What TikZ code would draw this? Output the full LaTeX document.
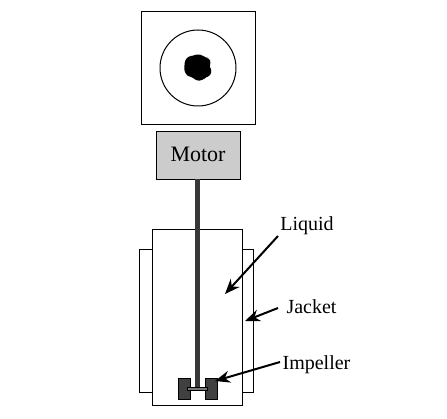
\documentclass[tikz,border=0pt]{standalone}
\usepackage{fontspec}
\setmainfont{Liberation Serif}
\usetikzlibrary{arrows.meta}
\definecolor{shaftgray}{gray}{0.22}
\definecolor{motorgray}{gray}{0.80}
\definecolor{bladegray}{gray}{0.25}
\tikzset{
  x=1pt,y=-1pt,
  outline/.style={draw=black,line width=0.9pt,fill=white},
  lbl/.style={font=\fontsize{20}{22}\selectfont,inner sep=0pt,text=black},
  pointer/.style={draw=black,line width=2pt,-{Stealth[length=15pt,width=12pt]}},
}
\begin{document}
\begin{tikzpicture}
\useasboundingbox (0,0) rectangle (447,419);
% top view
\node[outline,line width=0.9pt,minimum width=114pt,minimum height=113pt,inner sep=0pt] (topbox) at (198,67.5) {};
\node[draw=black,line width=1pt,circle,minimum size=76pt,inner sep=0pt] (ring) at (198,68) {};
\fill[black,rounded corners=2.5pt] (193,56) -- (197,54) -- (203,55.5) -- (206,58) -- (209,58) -- (211,63) -- (209,67) -- (212,70) -- (210,76) -- (206,77) -- (203,80) -- (197,81) -- (192,77) -- (187,76) -- (184,70) -- (185,60) -- (189,56) -- cycle;
% motor
\node[draw=black,line width=0.9pt,fill=motorgray,minimum width=84pt,minimum height=48pt,inner sep=0pt] (motor) at (198,155) {};
\node[lbl,font=\fontsize{22}{24}\selectfont,text=black,draw=none] (motortext) at (198,154.5) {Motor};
% vessel
\node[outline,line width=0.8pt,minimum width=114pt,minimum height=143pt,inner sep=0pt] (jacket) at (196,320.5) {};
\node[outline,line width=0.9pt,minimum width=90pt,minimum height=176pt,inner sep=0pt] (tank) at (197,317) {};
% shaft
\coordinate (shafttop) at (197.5,179);
\coordinate (shaftend) at (197.5,389);
\draw[draw=shaftgray,line width=5.5pt] (shafttop) -- (shaftend);
% impeller
\node[fill=bladegray,draw=black,line width=0.3pt,minimum width=12pt,minimum height=21pt,inner sep=0pt] (bladeL) at (184,388.5) {};
\node[fill=bladegray,draw=black,line width=0.3pt,minimum width=12pt,minimum height=21pt,inner sep=0pt] (bladeR) at (211,388.5) {};
\draw[draw=black,line width=3.5pt] ([shift={(3,0.5)}]bladeL.center) -- ([shift={(-3,0.5)}]bladeR.center);
\draw[draw=bladegray!70,line width=1.2pt] ([shift={(4,0.5)}]bladeL.center) -- ([shift={(-4,0.5)}]bladeR.center);
% labels
\node[lbl] (liquid) at (307,225.5) {Liquid};
\node[lbl] (jackettext) at (311.5,306.5) {Jacket};
\node[lbl] (impeller) at (316.5,364.5) {Impeller};
\coordinate (liquidtip) at (225,294);
\coordinate (jackettip) at (245,321);
\coordinate (impellertip) at (215,381);
\coordinate (liquidtail) at (278,236);
\coordinate (jackettail) at (278,308);
\coordinate (impellertail) at (280,362);
\draw[pointer] (liquidtail) -- (liquidtip);
\draw[pointer] (jackettail) -- (jackettip);
\draw[pointer] (impellertail) -- (impellertip);
\end{tikzpicture}
\end{document}
